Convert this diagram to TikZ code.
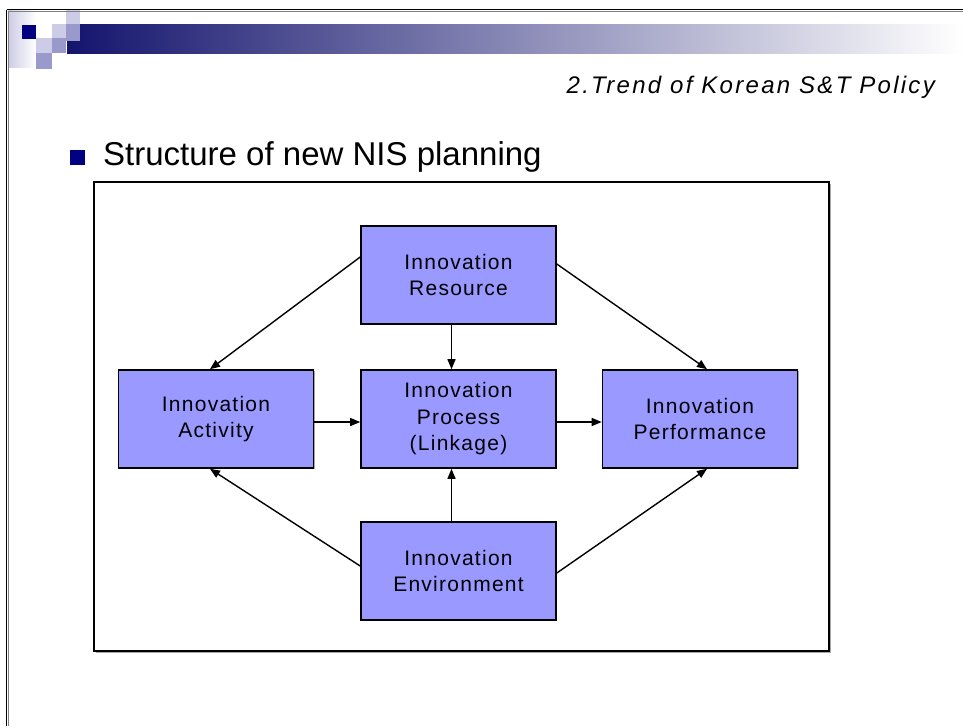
\documentclass[tikz,border=0pt]{standalone}
\usepackage{fontspec}
\setmainfont{Liberation Sans}
\usetikzlibrary{arrows.meta,shadows}
\definecolor{navy}{HTML}{000080}
\definecolor{barnavy}{HTML}{14146E}
\definecolor{lav}{HTML}{CCCCE6}
\definecolor{midlav}{HTML}{9999CC}
\definecolor{boxblue}{HTML}{9999FF}
\begin{document}
\begin{tikzpicture}[x=1pt, y=-1pt,
    box/.style={draw, line width=1.6pt, fill=boxblue, minimum width=195pt, minimum height=98pt,
        align=center, font=\fontsize{21}{26.5}\selectfont\addfontfeature{LetterSpace=6},
        drop shadow={shadow xshift=1pt, shadow yshift=-1pt, fill=gray!70, opacity=1}},
    link/.style={-{Triangle[length=10pt,width=8pt]}, line width=1.4pt}]
    \useasboundingbox (0,0) rectangle (963,726);
    \fill[white] (0,0) rectangle (963,726);

    % Kopfleiste
    \shade[left color=barnavy, right color=white] (67,24) rectangle (963,53);
    \shade[left color=lav, right color=white] (8,10) rectangle (36,67);
    \fill[navy] (22,25) rectangle (36,39);
    \fill[lav] (66,10) rectangle (80,24);
    \fill[lav] (52,24) rectangle (66,38);
    \fill[midlav] (66,24) rectangle (80,41);
    \fill[lav] (36,38) rectangle (52,53);
    \fill[midlav] (52,38) rectangle (66,53);
    \fill[midlav] (36,53) rectangle (52,69);
    \draw[gray, line width=1pt] (8,11) -- (963,11);
    \draw[gray, line width=1pt] (8,11) -- (8,726);
    \draw[line width=1.5pt] (6.5,9.5) -- (963,9.5);
    \draw[line width=1.5pt] (6.5,9.5) -- (6.5,726);

    % Titel
    \node[anchor=base east, inner sep=0pt, font=\fontsize{24}{24}\selectfont\itshape\addfontfeature{LetterSpace=9.5}] (sub) at (935,93) {2.Trend of Korean S\&T Policy};
    \fill[navy] (70,150) rectangle (85,165);
    \node[anchor=base west, inner sep=0pt, font=\fontsize{33}{33}\selectfont] (title) at (103,165) {Structure of new NIS planning};

    % Rahmen
    \draw[line width=1.5pt, fill=white, drop shadow={shadow xshift=1.5pt, shadow yshift=-1.5pt, fill=gray!70, opacity=1}] (94,182) rectangle (829,651);

    % Kaesten
    \node[box] (res) at (458.5,275) {Innovation\\Resource};
    \node[box] (act) at (216,419) {Innovation\\Activity};
    \node[box] (proc) at (458.5,419) {Innovation\\Process\\(Linkage)};
    \node[box] (perf) at (700,419) {Innovation\\Performance};
    \node[box] (env) at (458.5,571) {Innovation\\Environment};

    % Pfeile
    \draw[link] ([yshift=18pt]res.west) -- ([xshift=-6pt]act.north);
    \draw[link] ([xshift=-7pt]res.south) -- ([xshift=-7pt]proc.north);
    \draw[link] ([yshift=11pt]res.east) -- ([xshift=7pt]perf.north);
    \draw[link] ([yshift=-3pt]act.east) -- ([yshift=-3pt]proc.west);
    \draw[link] ([yshift=-3pt]proc.east) -- ([yshift=-3pt]perf.west);
    \draw[link] ([xshift=-7pt]env.north) -- ([xshift=-7pt]proc.south);
    \draw[link] ([yshift=5pt]env.west) -- ([xshift=-6pt]act.south);
    \draw[link] ([yshift=-2pt]env.east) -- ([xshift=7pt]perf.south);
\end{tikzpicture}
\end{document}
